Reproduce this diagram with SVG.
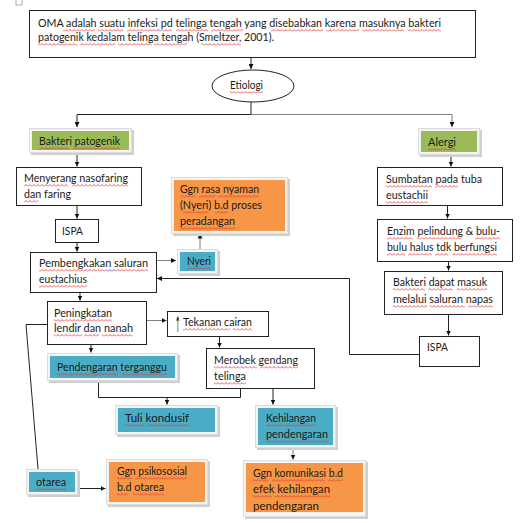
<svg xmlns="http://www.w3.org/2000/svg" width="530" height="523" viewBox="0 0 530 523">
<style>
text{font-family:Lato,"Liberation Sans",sans-serif;font-size:11px;fill:#1a1a1a}
.b{fill:#fff;stroke:#222;stroke-width:1}
.sh{fill:#cfcfcf}
.fr{fill:#f4f4f4;stroke:#dcdcdc;stroke-width:1}
.g{fill:#9BBB59}
.bl{fill:#4BACC6}
.o{fill:#F79646}
.c{fill:none;stroke:#222;stroke-width:1}
.cg{fill:none;stroke:#7f7f7f;stroke-width:1}
#spell rect{height:3px;fill:url(#w)}
#spell rect.q{fill:url(#wb)}
</style>
<defs>
<marker id="a" viewBox="0 0 10 10" refX="10" refY="5" markerWidth="5" markerHeight="5" orient="auto"><path d="M0 0 L10 5 L0 10z" fill="#111"/></marker>
<pattern id="w" width="4" height="3" patternUnits="userSpaceOnUse"><path d="M0 2.5 L2 0.5 L4 2.5" fill="none" stroke="#e8302a" stroke-width="0.8"/></pattern>
<pattern id="wb" width="4" height="3" patternUnits="userSpaceOnUse"><path d="M0 2.5 L2 0.5 L4 2.5" fill="none" stroke="#3040e0" stroke-width="0.8"/></pattern>
<clipPath id="clipK"><rect x="246" y="462" width="117" height="50"/></clipPath>
</defs>
<rect x="16" y="-2" width="6" height="7" fill="none" stroke="#aaa"/>

<g id="connectors">
<path class="c" d="M251 57.5 V69" marker-end="url(#a)"/>
<path class="c" d="M251 102 V114.5 H77 V127" marker-end="url(#a)"/>
<path class="cg" d="M251 114.5 H452 V127" marker-end="url(#a)"/>
<path class="c" d="M77 153 V166.5" marker-end="url(#a)"/>
<path class="c" d="M77 205.5 V218.5" marker-end="url(#a)"/>
<path class="c" d="M77 242.5 V251.5" marker-end="url(#a)"/>
<path class="cg" d="M156.5 260.5 H176" marker-end="url(#a)"/>
<path class="cg" d="M200 249 V233.5" marker-end="url(#a)"/>
<path class="c" d="M419.5 354.5 H349.5 V278.5 H157" marker-end="url(#a)"/>
<path class="c" d="M80 292.5 V300.5" marker-end="url(#a)"/>
<path class="cg" d="M146.5 320.5 H166.5" marker-end="url(#a)"/>
<path class="c" d="M219.5 336.5 V347.5" marker-end="url(#a)"/>
<path class="c" d="M91 344.5 V352.5" marker-end="url(#a)"/>
<path class="c" d="M98.5 381 V397.5 H240.5 V388.5"/>
<path class="c" d="M167 397.5 V404.5" marker-end="url(#a)"/>
<path class="c" d="M273 388.5 V404.5" marker-end="url(#a)"/>
<path class="cg" d="M293 448 V459.5" marker-end="url(#a)"/>
<path class="c" d="M47.5 324.5 H26 L38 469"/>
<path class="c" d="M78 488.5 H105.5" marker-end="url(#a)"/>
<path class="c" d="M451 155 V166.5" marker-end="url(#a)"/>
<path class="c" d="M447.5 205.5 V218.5" marker-end="url(#a)"/>
<path class="c" d="M448.5 261.5 V270.5" marker-end="url(#a)"/>
<path class="c" d="M448.5 314.5 V335.5" marker-end="url(#a)"/>
</g>

<g id="definisi">
<rect class="b" x="29.5" y="10.5" width="446" height="47"/>
<text x="38" y="27" textLength="403" lengthAdjust="spacingAndGlyphs">OMA adalah suatu infeksi  pd telinga tengah yang disebabkan karena masuknya bakteri</text>
<text x="38" y="41" textLength="236" lengthAdjust="spacingAndGlyphs">patogenik kedalam telinga tengah (Smeltzer, 2001).</text>
</g>

<g id="etiologi">
<ellipse cx="253" cy="86" rx="41" ry="16" fill="#fff" stroke="#222"/>
<text x="230" y="89" textLength="33" lengthAdjust="spacingAndGlyphs">Etiologi</text>
</g>

<g id="bakteri-patogenik">
<rect class="sh" x="31" y="130" width="103" height="25"/>
<rect class="fr" x="29.5" y="128.5" width="102" height="24"/>
<rect class="g" x="32" y="131" width="97" height="19"/>
<text x="39" y="145" textLength="81" lengthAdjust="spacingAndGlyphs">Bakteri patogenik</text>
</g>

<g id="alergi">
<rect class="sh" x="420" y="130" width="62" height="27"/>
<rect class="fr" x="418.5" y="128.5" width="61" height="26"/>
<rect class="g" x="421" y="131" width="56" height="21"/>
<text x="428" y="146" textLength="28" lengthAdjust="spacingAndGlyphs">Alergi</text>
</g>

<g id="menyerang">
<rect class="b" x="16.5" y="167.5" width="125" height="38"/>
<text x="24" y="182" textLength="104" lengthAdjust="spacingAndGlyphs">Menyerang nasofaring</text>
<text x="24" y="198" textLength="47" lengthAdjust="spacingAndGlyphs">dan faring</text>
</g>

<g id="ispa-kiri">
<rect class="b" x="55.5" y="219.5" width="43" height="23"/>
<text x="62" y="235" textLength="21" lengthAdjust="spacingAndGlyphs">ISPA</text>
</g>

<g id="pembengkakan">
<rect class="b" x="30.5" y="252.5" width="126" height="40"/>
<text x="39" y="267" textLength="109" lengthAdjust="spacingAndGlyphs">Pembengkakan  saluran</text>
<text x="39" y="283" textLength="48" lengthAdjust="spacingAndGlyphs">eustachius</text>
</g>

<g id="nyeri">
<rect class="sh" x="179" y="251" width="41" height="25"/>
<rect class="fr" x="177.5" y="249.5" width="40" height="24"/>
<rect class="bl" x="180" y="252" width="35" height="19"/>
<text x="187" y="265" textLength="24" lengthAdjust="spacingAndGlyphs">Nyeri</text>
</g>

<g id="ggn-rasa-nyaman">
<rect class="sh" x="173" y="179" width="117" height="57"/>
<rect class="fr" x="171.5" y="177.5" width="116" height="56"/>
<rect class="o" x="174" y="180" width="111" height="51"/>
<text x="180" y="193" textLength="79" lengthAdjust="spacingAndGlyphs">Ggn rasa nyaman</text>
<text x="180" y="209" textLength="82" lengthAdjust="spacingAndGlyphs">(Nyeri) b.d proses</text>
<text x="180" y="225" textLength="55" lengthAdjust="spacingAndGlyphs">peradangan</text>
</g>

<g id="peningkatan">
<rect class="b" x="47.5" y="301.5" width="99" height="43"/>
<text x="54" y="317" textLength="58" lengthAdjust="spacingAndGlyphs">Peningkatan</text>
<text x="54" y="332" textLength="79" lengthAdjust="spacingAndGlyphs">lendir dan nanah</text>
</g>

<g id="tekanan-cairan">
<rect class="b" x="167.5" y="311.5" width="101" height="25"/>
<text transform="translate(175 332) scale(0.3 1)" style="font-family:'DejaVu Sans',sans-serif;font-size:22px">↑</text>
<text x="183" y="326" textLength="69" lengthAdjust="spacingAndGlyphs">Tekanan cairan</text>
</g>

<g id="merobek">
<rect class="b" x="206.5" y="348.5" width="108" height="40"/>
<text x="214" y="364" textLength="84" lengthAdjust="spacingAndGlyphs">Merobek gendang</text>
<text x="214" y="380" textLength="32" lengthAdjust="spacingAndGlyphs">telinga</text>
</g>

<g id="pendengaran-terganggu">
<rect class="sh" x="49" y="355" width="131" height="28"/>
<rect class="fr" x="47.5" y="353.5" width="130" height="27"/>
<rect class="bl" x="50" y="356" width="125" height="22"/>
<text x="57" y="371" textLength="110" lengthAdjust="spacingAndGlyphs">Pendengaran terganggu</text>
</g>

<g id="tuli-kondusif">
<rect class="sh" x="117" y="407" width="103" height="30"/>
<rect class="fr" x="115.5" y="405.5" width="102" height="29"/>
<rect class="bl" x="118" y="408" width="97" height="24"/>
<text x="125" y="422" textLength="64" lengthAdjust="spacingAndGlyphs">Tuli kondusif</text>
</g>

<g id="kehilangan-pendengaran">
<rect class="sh" x="257" y="407" width="81" height="43"/>
<rect class="fr" x="255.5" y="405.5" width="80" height="42"/>
<rect class="bl" x="258" y="408" width="75" height="37"/>
<text x="266" y="422" textLength="50" lengthAdjust="spacingAndGlyphs">Kehilangan</text>
<text x="266" y="438" textLength="62" lengthAdjust="spacingAndGlyphs">pendengaran</text>
</g>

<g id="ggn-komunikasi">
<rect class="sh" x="245" y="462" width="123" height="57"/>
<rect class="fr" x="243.5" y="460.5" width="122" height="56"/>
<rect class="o" x="246" y="463" width="117" height="49"/>
<g clip-path="url(#clipK)">
<text x="253" y="477" textLength="90" lengthAdjust="spacingAndGlyphs">Ggn komunikasi b.d</text>
<text x="253" y="493" textLength="77" lengthAdjust="spacingAndGlyphs">efek kehilangan</text>
<text x="253" y="510" textLength="66" lengthAdjust="spacingAndGlyphs">pendengaran</text>
</g>
</g>

<g id="otarea">
<rect class="sh" x="28" y="471" width="52" height="26"/>
<rect class="fr" x="26.5" y="469.5" width="51" height="25"/>
<rect class="bl" x="29" y="472" width="46" height="20"/>
<text x="36" y="486" textLength="30" lengthAdjust="spacingAndGlyphs">otarea</text>
</g>

<g id="ggn-psikososial">
<rect class="sh" x="108" y="461" width="102" height="46"/>
<rect class="fr" x="106.5" y="459.5" width="101" height="45"/>
<rect class="o" x="109" y="462" width="96" height="40"/>
<text x="117" y="475" textLength="70" lengthAdjust="spacingAndGlyphs">Ggn psikososial</text>
<text x="117" y="491" textLength="47" lengthAdjust="spacingAndGlyphs">b.d otarea</text>
</g>

<g id="sumbatan">
<rect class="b" x="377.5" y="167.5" width="125" height="38"/>
<text x="386" y="183" textLength="96" lengthAdjust="spacingAndGlyphs">Sumbatan pada tuba</text>
<text x="386" y="199" textLength="42" lengthAdjust="spacingAndGlyphs">eustachii</text>
</g>

<g id="enzim">
<rect class="b" x="377.5" y="219.5" width="135" height="42"/>
<text x="387" y="235" textLength="113" lengthAdjust="spacingAndGlyphs">Enzim pelindung &amp; bulu-</text>
<text x="387" y="251" textLength="110" lengthAdjust="spacingAndGlyphs">bulu halus tdk berfungsi</text>
</g>

<g id="bakteri-masuk">
<rect class="b" x="384.5" y="271.5" width="118" height="43"/>
<text x="393" y="286" textLength="94" lengthAdjust="spacingAndGlyphs">Bakteri dapat masuk</text>
<text x="393" y="303" textLength="100" lengthAdjust="spacingAndGlyphs">melalui saluran napas</text>
</g>

<g id="ispa-kanan">
<rect class="b" x="419.5" y="336.5" width="60" height="30"/>
<text x="427" y="351" textLength="21" lengthAdjust="spacingAndGlyphs">ISPA</text>
</g>

<g id="spell">
<g transform="translate(0 29)"><rect x="63" width="32"/><rect x="98" width="25"/><rect x="127" width="30"/><rect class="q" x="157" width="4"/><rect x="161" width="11"/><rect x="176" width="32"/><rect x="211" width="32"/><rect x="271" width="52"/><rect x="326" width="33"/><rect x="362" width="42"/><rect x="408" width="33"/></g>
<g transform="translate(0 43)"><rect x="38" width="39"/><rect x="80" width="35"/><rect x="118" width="34"/><rect x="154" width="33"/><rect x="201" width="40"/></g>
<g transform="translate(0 91)"><rect x="230" width="33"/></g>
<g transform="translate(0 147)"><rect x="39" width="30"/><rect x="73" width="47"/></g>
<g transform="translate(0 148)"><rect x="428" width="28"/></g>
<g transform="translate(0 184)"><rect x="24" width="44"/><rect x="72" width="56"/></g>
<g transform="translate(0 200)"><rect x="24" width="14"/></g>
<g transform="translate(0 269)"><rect x="39" width="69"/><rect class="q" x="108" width="7"/><rect x="115" width="33"/></g>
<g transform="translate(0 285)"><rect x="39" width="48"/></g>
<g transform="translate(0 267)"><rect x="187" width="24"/></g>
<g transform="translate(0 195)"><rect x="180" width="15"/><rect x="199" width="16"/><rect x="218" width="41"/></g>
<g transform="translate(0 211)"><rect x="183" width="26"/><rect x="215" width="13"/></g>
<g transform="translate(0 227)"><rect x="180" width="55"/></g>
<g transform="translate(0 319)"><rect x="54" width="58"/></g>
<g transform="translate(0 334)"><rect x="54" width="28"/><rect x="84" width="15"/><rect x="102" width="31"/></g>
<g transform="translate(0 328)"><rect x="183" width="47"/><rect x="233" width="19"/></g>
<g transform="translate(0 366)"><rect x="214" width="43"/><rect x="260" width="38"/></g>
<g transform="translate(0 382)"><rect x="214" width="32"/></g>
<g transform="translate(0 373)"><rect x="57" width="61"/><rect x="122" width="45"/></g>
<g transform="translate(0 424)"><rect x="125" width="18"/><rect x="147" width="42"/><rect x="266" width="50"/></g>
<g transform="translate(0 440)"><rect x="266" width="62"/></g>
<g transform="translate(0 479)"><rect x="253" width="15"/><rect x="272" width="53"/><rect x="328" width="15"/></g>
<g transform="translate(0 495)"><rect x="253" width="19"/><rect x="275" width="55"/></g>
<g transform="translate(0 488)"><rect x="36" width="30"/></g>
<g transform="translate(0 477)"><rect x="117" width="15"/><rect x="135" width="52"/></g>
<g transform="translate(0 493)"><rect x="117" width="11"/><rect x="133" width="31"/></g>
<g transform="translate(0 185)"><rect x="386" width="46"/><rect x="435" width="23"/></g>
<g transform="translate(0 201)"><rect x="386" width="42"/></g>
<g transform="translate(0 237)"><rect x="387" width="26"/><rect x="417" width="45"/><rect x="475" width="25"/></g>
<g transform="translate(0 253)"><rect x="387" width="18"/><rect x="408" width="24"/><rect x="435" width="13"/><rect x="452" width="45"/></g>
<g transform="translate(0 288)"><rect x="393" width="32"/><rect x="428" width="25"/><rect x="457" width="30"/></g>
<g transform="translate(0 305)"><rect x="393" width="34"/><rect x="430" width="35"/><rect x="468" width="25"/></g>
</g>
</svg>
